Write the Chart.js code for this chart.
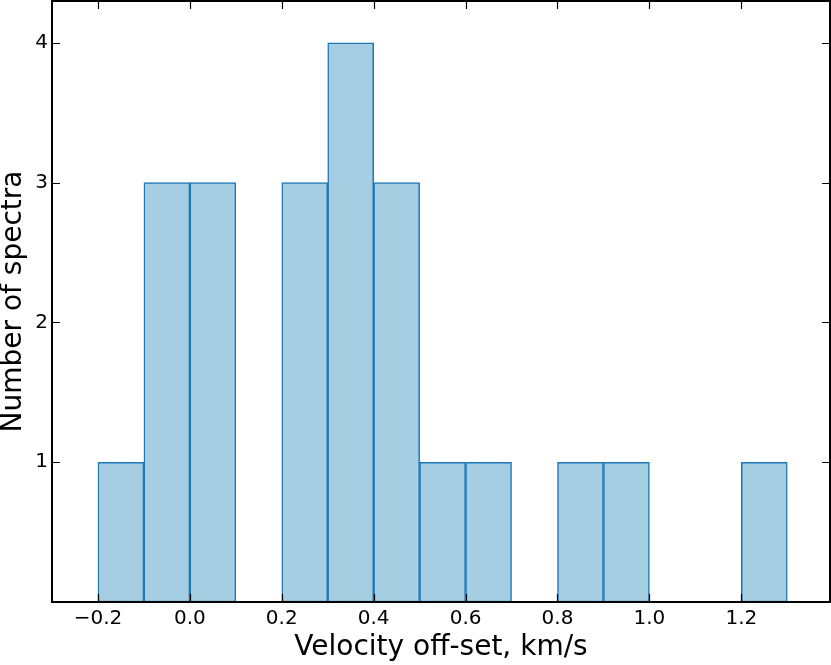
<!DOCTYPE html>
<html>
<head>
<meta charset="utf-8">
<script src="https://cdn.jsdelivr.net/npm/chart.js@4.4.1/dist/chart.umd.min.js"></script>
<style>
  html, body { margin: 0; padding: 0; background: #fff; }
  #wrap { width: 831px; height: 665px; }
</style>
</head>
<body>
<div id="wrap"><canvas id="histChart"></canvas></div>
<script>
'use strict'

// *********DATA***********

// left edge of each 0.1 km/s bin
let binStarts = [-0.2, -0.1, 0.0, 0.1, 0.2, 0.3, 0.4, 0.5, 0.6, 0.7, 0.8, 0.9, 1.0, 1.1, 1.2];
let binCounts = [1, 3, 3, 0, 3, 4, 3, 1, 1, 0, 1, 1, 0, 0, 1];
let binWidth = 0.1;

let xTickValues = [-0.2, 0.0, 0.2, 0.4, 0.6, 0.8, 1.0, 1.2];
let yTickValues = [1, 2, 3, 4];

let xTitle = 'Velocity off-set, km/s';
let yTitle = 'Number of spectra';

// bars sit on the bin centres of a linear axis
let barPoints = [];
for (let i = 0; i < binStarts.length; i++) {
  barPoints.push({
    x: binStarts[i] + binWidth / 2,
    y: binCounts[i] === 0 ? null : binCounts[i]
  });
}

// ********HELPERS*********

function fmtTick(v) {
  return v.toFixed(1).replace('-', '\u2212');
}

// matplotlib classic look: frame all round, ticks pointing inwards on every side
let framePlugin = {
  id: 'frame',
  afterDraw(chart) {
    let c = chart.ctx;
    let a = chart.chartArea;
    let xs = chart.scales.x;
    let ys = chart.scales.y;
    let len = 8;
    c.save();
    c.strokeStyle = '#000';
    c.lineWidth = 1.2;
    c.beginPath();
    xTickValues.forEach(function (v) {
      let px = Math.round(xs.getPixelForValue(v)) + 0.5;
      c.moveTo(px, a.bottom); c.lineTo(px, a.bottom - len);
      c.moveTo(px, a.top); c.lineTo(px, a.top + len);
    });
    yTickValues.forEach(function (v) {
      let py = Math.round(ys.getPixelForValue(v)) + 0.5;
      c.moveTo(a.left, py); c.lineTo(a.left + len, py);
      c.moveTo(a.right, py); c.lineTo(a.right - len, py);
    });
    c.stroke();
    c.lineWidth = 2;
    c.strokeRect(a.left, a.top, a.right - a.left, a.bottom - a.top);
    c.restore();
  }
};

// ********CHART*********

let ctx = document.getElementById('histChart');

new Chart(ctx, {
  type: 'bar',
  data: {
    datasets: [{
      data: barPoints,
      backgroundColor: '#a6cee3',
      borderColor: '#1f78b4',
      borderWidth: 1.5,
      borderSkipped: false,
      barPercentage: 1,
      categoryPercentage: 1
    }]
  },
  options: {
    responsive: true,
    maintainAspectRatio: false,
    animation: false,
    layout: { padding: { top: 1, right: 1, left: 0, bottom: 0 } },
    plugins: {
      legend: { display: false },
      tooltip: { enabled: false }
    },
    scales: {
      x: {
        type: 'linear',
        offset: false,
        min: -0.3,
        max: 1.393,
        grid: { display: false, drawTicks: false, offset: false },
        border: { display: false },
        afterBuildTicks: function (scale) {
          scale.ticks = xTickValues.map(function (v) { return { value: v }; });
        },
        afterFit: function (scale) {
          scale.height = 63;
          scale.paddingLeft = 0;
          scale.paddingRight = 0;
        },
        ticks: {
          padding: 5,
          maxRotation: 0,
          color: '#000',
          font: { family: 'DejaVu Sans', size: 20 },
          callback: function (v) { return fmtTick(v); }
        },
        title: {
          display: true,
          text: xTitle,
          color: '#000',
          font: { family: 'DejaVu Sans', size: 28 },
          padding: { top: 0, bottom: 0 }
        }
      },
      y: {
        type: 'linear',
        min: 0,
        max: 4.3,
        grid: { display: false, drawTicks: false },
        border: { display: false },
        afterBuildTicks: function (scale) {
          scale.ticks = yTickValues.map(function (v) { return { value: v }; });
        },
        afterFit: function (scale) {
          scale.width = 52;
          scale.paddingTop = 0;
          scale.paddingBottom = 0;
        },
        ticks: {
          padding: 4,
          color: '#000',
          font: { family: 'DejaVu Sans', size: 20 },
          callback: function (v) { return String(v); }
        },
        title: {
          display: true,
          text: yTitle,
          color: '#000',
          font: { family: 'DejaVu Sans', size: 28 },
          padding: { top: -3, bottom: 0 }
        }
      }
    }
  },
  plugins: [framePlugin]
});
</script>
</body>
</html>
